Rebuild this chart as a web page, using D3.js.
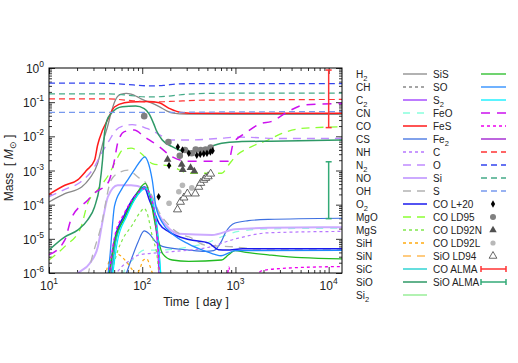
<!DOCTYPE html>
<html>
<head>
<meta charset="utf-8">
<script src="https://cdn.jsdelivr.net/npm/d3@7"></script>
<style>
body { margin: 0; background: #fff; }
text { font-family: "Liberation Sans", Arial, sans-serif; }
</style>
</head>
<body>
<div id="chart"></div>
<script>
// masses [Msun] vs time [day]
const H2 = [[10,1.2e-4],[14.8,2.1e-4],[22.4,3.3e-4],[27.3,5.9e-4],[33.2,1.6e-3],[35.5,3.2e-3],[39.4,9.8e-3],[42.4,0.019],[46,0.045],[50.4,0.1],[54.2,0.145],[60,0.172],[67.5,0.182],[76,0.172],[88,0.145],[100,0.12],[120,0.1],[152,0.074],[185,0.055],[215,0.048],[300,0.045],[1000,0.044],[13900,0.044]];
const CO = [[10,2.0e-4],[14.8,3.7e-4],[20.3,5.3e-4],[25.2,1.0e-3],[30.8,2.0e-3],[33.2,5.5e-3],[37.5,0.015],[42.4,0.03],[50.4,0.072],[64.4,0.096],[88,0.103],[115,0.104],[152,0.096],[194,0.066],[260,0.05],[400,0.047],[13900,0.047]];
const N2 = [[10,1.7e-4],[14.8,2.8e-4],[22,4.7e-4],[30.8,1.3e-3],[34.9,2.5e-3],[44.6,7.8e-3],[52,0.015],[62,0.02],[78,0.022],[95,0.02],[112,0.017],[134,0.0137],[170,0.0095],[194,7.8e-3],[316,7.8e-3],[660,8.7e-3],[1077,9.5e-3],[3000,8.6e-3],[13900,8.6e-3]];
const O = [[10,0.36],[30,0.36],[50,0.35],[80,0.32],[120,0.3],[170,0.31],[240,0.34],[400,0.35],[13900,0.35]];
const Si = [[10,0.175],[40,0.175],[70,0.16],[110,0.142],[160,0.145],[300,0.17],[600,0.182],[13900,0.185]];
const C = [[10,0.125],[40,0.125],[80,0.11],[120,0.1],[200,0.105],[500,0.115],[13900,0.12]];
const S = [[10,0.05],[100,0.05],[1000,0.052],[13900,0.053]];
const SiO = [[10,4.7e-6],[14.8,1.15e-5],[20.3,1.8e-5],[26,3.6e-5],[30.8,8.6e-5],[34.9,3.5e-4],[37.5,2e-3],[39.4,0.0124],[42,0.03],[46.5,0.047],[61,0.074],[85,0.077],[105,0.065],[119,0.045],[134,0.022],[141,0.0153],[164,7.8e-3],[210,5e-3],[291,3.6e-3],[370,3.6e-3],[475,4.5e-3],[712,6.3e-3],[1077,7e-3],[2400,7.2e-3],[13900,7.8e-3]];
const MgO = [[10,2.4e-6],[14.8,6e-6],[22,2.2e-5],[26,1.1e-4],[33.2,2.7e-4],[44.6,8.3e-4],[52.5,2e-3],[61.7,4e-3],[75.8,4.5e-3],[96.8,3.2e-3],[128,1.6e-3],[210,1.3e-3],[316,8.3e-4],[712,8.3e-4],[843,1.45e-3],[990,2.5e-3],[1490,5e-3],[2244,7.8e-3],[3100,0.012],[5100,0.017],[13900,0.019]];
const FeO = [[10,3.4e-6],[14.8,9.3e-6],[17.4,4e-5],[26.2,1.37e-4],[30.8,2.2e-4],[42.8,4.3e-4],[50.4,2e-3],[54.5,6.3e-3],[64.4,0.0137],[82,0.0153],[105,9.8e-3],[152,5e-3],[210,2.5e-3],[316,1.85e-3],[843,1.85e-3],[950,6.3e-3],[1270,0.0122],[1890,0.024],[2400,0.027],[3660,0.053],[5500,0.083],[13900,0.092]];
const NO = [[18,7e-7],[20.5,1e-6],[27.3,1.9e-6],[33.5,6e-6],[37.8,3.6e-5],[42.8,1.7e-4],[54.5,3.7e-4],[75.8,3.7e-4],[105,3e-4],[119,2.2e-4],[135,1.1e-4],[152,5e-5],[194,2e-5],[247,1.4e-5],[560,1.3e-5],[990,1.9e-5],[2244,2.1e-5],[13900,2.2e-5]];
const OH = [[26,8e-7],[28.5,2.4e-6],[36,2.2e-5],[46.5,5.3e-4],[58,9e-4],[70,1.03e-3],[93,6e-4],[105,5e-4],[125,2e-4],[152,6e-5],[194,2.5e-5],[268,1.3e-5],[316,1.15e-5],[475,6.5e-6],[990,5.8e-6],[1758,5e-6],[13900,5e-6]];
const SO = [[42.8,8e-7],[45,3e-6],[50.4,9e-5],[60,2.8e-4],[70,5.3e-4],[85,1.2e-3],[97,2e-3],[106,2.5e-3],[115,1.8e-3],[128,5.3e-4],[140,9e-5],[164,3e-5],[210,1.4e-5],[316,7e-6],[450,4.6e-6],[600,3.5e-6],[700,3.2e-6],[850,3.9e-6],[1000,4.5e-6],[13900,4.6e-6]];
const O2 = [[44,8e-7],[50.4,9e-6],[64.4,5e-5],[82,1.7e-4],[105,3.3e-4],[119,1.4e-4],[135,6e-5],[152,2.8e-5],[194,1.6e-5],[316,9.5e-6],[516,7.5e-6],[660,4.8e-6],[800,4.7e-6],[1200,5.1e-6],[13900,5.1e-6]];
const CS = [[66,8e-7],[76,2.4e-6],[90,8e-6],[105,1.7e-5],[119,1.4e-5],[140,8e-6],[164,6e-6],[316,4.7e-6],[475,4.3e-6],[584,4.5e-6],[700,8e-6],[780,1.5e-5],[990,2.9e-5],[1375,3.4e-5],[2244,3.7e-5],[13900,4e-5]];
const SiS = [[44,8e-7],[50.4,8e-6],[64.4,4e-5],[82,1.5e-4],[108,4.2e-4],[119,2.2e-4],[134,4e-5],[152,7.4e-6],[164,3.8e-6],[210,2.4e-6],[316,2.2e-6],[712,2.4e-6],[843,3.4e-6],[990,4.5e-6],[1300,4e-6],[2244,3.4e-6],[5100,2.8e-6],[13900,2.6e-6]];
const SiC = [[47,8e-7],[52,8e-6],[66,4.5e-5],[85,1.6e-4],[105,3.2e-4],[120,1.9e-4],[134,8e-5],[145,2e-5],[152,4e-6],[158,7e-7]];
const S2 = [[48,8e-7],[54,8e-6],[68,4.5e-5],[88,1.8e-4],[110,3e-4],[125,1.5e-4],[138,5e-5],[148,1e-5],[156,1.5e-6],[161,6e-7]];
const C2 = [[46,8e-7],[52,9e-6],[66,5e-5],[86,1.7e-4],[108,3.3e-4],[122,1.6e-4],[136,4e-5],[146,6e-6],[152,7e-7]];
const FeS = [[44,8e-7],[50,1e-5],[64,5.5e-5],[84,1.8e-4],[108,3e-4],[128,1.2e-4],[140,3e-5],[148,6e-6],[155,7e-7],[810,7e-7],[850,1.5e-6],[890,7e-7],[1600,8e-7],[1900,1.15e-6],[3000,1.35e-6],[13900,1.55e-6]];
const MgS = [[46,8e-7],[55,4.7e-6],[62,1e-5],[78,2.5e-5],[95,6e-5],[105,7.8e-5],[112,6e-5],[128,1.2e-5],[146,2.4e-6],[152,7e-7]];
const CN = [[62,8e-7],[64.4,1.2e-6],[80,2.5e-6],[105,4.7e-6],[140,4.7e-6],[209,4.9e-6],[316,5.8e-6],[475,7.3e-6],[712,1.15e-5],[1077,1.65e-5],[2244,1.95e-5],[13900,2.05e-5]];
const NH = [[50,8e-7],[60,1.5e-6],[75,2.4e-6],[93,3.4e-6],[209,4.2e-6],[475,5.4e-6],[1077,1.05e-5],[2244,1.5e-5],[13900,1.65e-5]];
const SiH = [[40,8e-7],[44.6,2.4e-6],[50,3.8e-6],[56,3.5e-6],[67,2.2e-6],[79,1.2e-6],[86,9e-7],[93,1.2e-6],[103,2.4e-6],[112,2.6e-6],[122,1.5e-6],[130,9e-7],[136,7e-7]];

// observations
const coL20 = [[150,1.7e-4],[194,1.4e-3],[241,4.9e-3],[270,4e-3],[316,3.2e-3],[385,2.8e-3],[419,3.0e-3],[457,3.1e-3],[495,3.2e-3],[538,3.5e-3],[569,3.8e-3]];
const coLD95 = [[105,0.039],[191,6.8e-3],[253,2.7e-3],[287,4e-3],[340,3.2e-3],[375,4.1e-3],[424,4e-3],[479,4.1e-3],[542,4.7e-3]];
const coLD92N = [[187,2.1e-3],[265,1.5e-3],[272,1.05e-3],[330,1.2e-3],[362,0.95e-3]];
const coLD92L = [[194,1.1e-4],[247,2.4e-4],[270,3.7e-4],[340,3.1e-4]];
const sioLD94 = [[239,7.2e-5],[257,1.2e-4],[280,1.6e-4],[305,2.1e-4],[371,2.1e-4],[404,3.3e-4],[424,4.3e-4],[457,5.3e-4],[480,6e-4],[510,6.7e-4],[542,8e-4]];
const almaDay = 1e4;
const coAlma = [0.018, 0.87];
const sioAlma = [3.9e-5, 1.8e-3];

// axis ticks
const xMajor = [10, 100, 1000, 10000];
const yMajor = [1e-6, 1e-5, 1e-4, 1e-3, 1e-2, 1e-1, 1];
const xLabels = ["1", "2", "3", "4"];
const yLabels = ["-6", "-5", "-4", "-3", "-2", "-1", "0"];

// styles for each legend entry, in legend order
const col1 = [
  ["H2", H2, "#888888", null, 1.3],
  ["CH", null, "#888888", "3,3", 1.2],
  ["C2", C2, "#9933ff", null, 1.2],
  ["CN", CN, "#88ffdd", "7,7", 1.2],
  ["CO", CO, "#ff1a1a", null, 1.5],
  ["CS", CS, "#3d6fe0", null, 1.2],
  ["NH", NH, "#b777ff", "3,3", 1.2],
  ["N2", N2, "#c08aff", "8,6", 1.4],
  ["NO", NO, "#ccaaff", null, 2],
  ["OH", OH, "#b3b3b3", "8,6", 1.3],
  ["O2", O2, "#1a1aee", null, 1.5],
  ["MgO", MgO, "#8cff33", "8,6", 1.3],
  ["MgS", MgS, "#80e84c", "3,3", 1.2],
  ["SiH", SiH, "#ffaa11", "3,3", 1.2],
  ["SiN", null, "#ffbb55", "8,6", 1.2],
  ["SiC", SiC, "#11cccc", null, 1.2],
  ["SiO", SiO, "#2e9966", null, 1.5],
  ["Si2", null, "#99ee99", null, 1.5]
];
const col2 = [
  ["SiS", SiS, "#22bb22", null, 1.3],
  ["SO", SO, "#2288ff", null, 1.3],
  ["S2", S2, "#00eeff", null, 1.2],
  ["FeO", FeO, "#cc11ee", "9,7", 1.5],
  ["FeS", FeS, "#ee00ee", "3,3", 1.3],
  ["Fe2", null, "#9911cc", null, 1.2],
  ["C", C, "#ff3333", "6,4", 1.2],
  ["O", O, "#3344ee", "6,4", 1.3],
  ["Si", Si, "#44aa88", "6,4", 1.2],
  ["S", S, "#7799ee", "6,4", 1.2]
];

const W = 518, H = 363;
const x = d3.scaleLog().domain([10, 13900]).range([49, 342]);
const y = d3.scaleLog().domain([1e-6, 1]).range([273, 68]);

const svg = d3.select("#chart").append("svg").attr("width", W).attr("height", H);

svg.append("clipPath").attr("id", "clip")
  .append("rect").attr("x", 49).attr("y", 68).attr("width", 293).attr("height", 205);

// ticks (inward, mirrored)
const xMinor = [];
[10, 100, 1000, 10000].forEach(d => { for (let k = 2; k < 10; k++) if (d * k <= 13900) xMinor.push(d * k); });
const yMinor = [];
[1e-6, 1e-5, 1e-4, 1e-3, 1e-2, 1e-1].forEach(d => { for (let k = 2; k < 10; k++) yMinor.push(d * k); });

const axG = svg.append("g").attr("class", "axes");
const addAxis = (gen, tr) => axG.append("g").attr("transform", tr).call(gen)
  .call(g => g.select(".domain").remove())
  .call(g => g.selectAll("line").attr("stroke", "#000").attr("stroke-width", 0.8));

addAxis(d3.axisBottom(x).tickValues(xMajor).tickSize(-6).tickFormat(""), "translate(0,273)");
addAxis(d3.axisBottom(x).tickValues(xMinor).tickSize(-3).tickFormat(""), "translate(0,273)");
addAxis(d3.axisTop(x).tickValues(xMajor).tickSize(-6).tickFormat(""), "translate(0,68)");
addAxis(d3.axisTop(x).tickValues(xMinor).tickSize(-3).tickFormat(""), "translate(0,68)");
addAxis(d3.axisLeft(y).tickValues(yMajor).tickSize(-6).tickFormat(""), "translate(49,0)");
addAxis(d3.axisLeft(y).tickValues(yMinor).tickSize(-3).tickFormat(""), "translate(49,0)");
addAxis(d3.axisRight(y).tickValues(yMajor).tickSize(-6).tickFormat(""), "translate(342,0)");
addAxis(d3.axisRight(y).tickValues(yMinor).tickSize(-3).tickFormat(""), "translate(342,0)");

// tick labels 10^n
xMajor.forEach((d, i) => {
  const t = svg.append("text").attr("x", x(d)).attr("y", 290)
    .attr("text-anchor", "middle").attr("font-size", 12).attr("fill", "#222");
  t.append("tspan").text("10");
  t.append("tspan").attr("font-size", 8.5).attr("dy", -6).text(xLabels[i]);
});
yMajor.forEach((d, i) => {
  const t = svg.append("text").attr("x", 44).attr("y", y(d) + 5)
    .attr("text-anchor", "end").attr("font-size", 12).attr("fill", "#222");
  t.append("tspan").text("10");
  t.append("tspan").attr("font-size", 8.5).attr("dy", -6).text(yLabels[i]);
});

// axis titles
svg.append("text").attr("x", 196).attr("y", 306).attr("text-anchor", "middle")
  .attr("font-size", 12).attr("fill", "#222").text("Time \u00a0[ day ]");
const yt = svg.append("text").attr("transform", "translate(13,168) rotate(-90)")
  .attr("text-anchor", "middle").attr("font-size", 12).attr("fill", "#222");
yt.append("tspan").text("Mass \u00a0[ ");
yt.append("tspan").attr("font-style", "italic").text("M");
yt.append("tspan").attr("font-size", 8.5).attr("dy", 3).text("\u2299");
yt.append("tspan").attr("dy", -3).text("\u00a0]");

// curves
const line = d3.line().x(d => x(d[0])).y(d => y(d[1])).curve(d3.curveMonotoneX);
const plot = svg.append("g").attr("clip-path", "url(#clip)");
col1.concat(col2).forEach(s => {
  if (!s[1]) return;
  plot.append("path").datum(s[1]).attr("d", line)
    .attr("fill", "none").attr("stroke", s[2]).attr("stroke-width", s[4])
    .attr("stroke-dasharray", s[3]);
});

// observations
const sym = (type, size) => d3.symbol().type(type).size(size)();
plot.selectAll(".ld95").data(coLD95).join("circle")
  .attr("cx", d => x(d[0])).attr("cy", d => y(d[1])).attr("r", 3.3).attr("fill", "#808080");
plot.selectAll(".ld92l").data(coLD92L).join("circle")
  .attr("cx", d => x(d[0])).attr("cy", d => y(d[1])).attr("r", 2.8).attr("fill", "#b8b8b8");
plot.selectAll(".ld92n").data(coLD92N).join("path")
  .attr("transform", d => `translate(${x(d[0])},${y(d[1])})`)
  .attr("d", sym(d3.symbolTriangle, 26)).attr("fill", "#505050");
plot.selectAll(".ld94").data(sioLD94).join("path")
  .attr("transform", d => `translate(${x(d[0])},${y(d[1])})`)
  .attr("d", sym(d3.symbolTriangle, 28)).attr("fill", "#fff").attr("stroke", "#404040").attr("stroke-width", 0.8);
plot.selectAll(".l20").data(coL20).join("path")
  .attr("transform", d => `translate(${x(d[0])},${y(d[1])})`)
  .attr("d", sym(d3.symbolDiamond, 16)).attr("fill", "#000");

// ALMA error bars
const errBar = (g, xc, lo, hi, color) => {
  g.append("line").attr("x1", xc).attr("x2", xc).attr("y1", lo).attr("y2", hi).attr("stroke", color).attr("stroke-width", 1.5);
  [lo, hi].forEach(v => g.append("line").attr("x1", xc - 3).attr("x2", xc + 3).attr("y1", v).attr("y2", v)
    .attr("stroke", color).attr("stroke-width", 1.5));
};
errBar(plot, x(almaDay), y(coAlma[0]), y(coAlma[1]), "#ff3333");
errBar(plot, x(almaDay), y(sioAlma[0]), y(sioAlma[1]), "#33aa77");

// frame
svg.append("rect").attr("x", 49).attr("y", 68).attr("width", 293).attr("height", 205)
  .attr("fill", "none").attr("stroke", "#000").attr("stroke-width", 1);

// legend
const subs = ["H2", "C2", "N2", "O2", "Si2", "S2", "Fe2"];
const rowY = i => 74 + 13 * i;
const leg = svg.append("g").attr("class", "legend");
const label = (lx, ly, name) => {
  const t = leg.append("text").attr("x", lx).attr("y", ly + 3.5).attr("font-size", 10).attr("fill", "#222");
  if (subs.includes(name)) {
    t.append("tspan").text(name.slice(0, -1));
    t.append("tspan").attr("font-size", 7.5).attr("dy", 3).text(name.slice(-1));
  } else t.text(name);
};
const sample = (x1, x2, ly, s) => leg.append("line").attr("x1", x1).attr("x2", x2).attr("y1", ly).attr("y2", ly)
  .attr("stroke", s[2]).attr("stroke-width", Math.max(s[4], 1.3)).attr("stroke-dasharray", s[3]);

col1.forEach((s, i) => { label(356, rowY(i), s[0]); sample(403, 427, rowY(i), s); });
col2.forEach((s, i) => { label(433, rowY(i), s[0]); sample(481, 506, rowY(i), s); });

const obsLegend = ["CO L+20", "CO LD95", "CO LD92N", "CO LD92L", "SiO LD94", "CO ALMA", "SiO ALMA"];
obsLegend.forEach((n, k) => label(433, rowY(10 + k), n));
const mx = 493;
leg.append("path").attr("transform", `translate(${mx},${rowY(10)})`).attr("d", sym(d3.symbolDiamond, 16)).attr("fill", "#000");
leg.append("circle").attr("cx", mx).attr("cy", rowY(11)).attr("r", 3).attr("fill", "#808080");
leg.append("path").attr("transform", `translate(${mx},${rowY(12)})`).attr("d", sym(d3.symbolTriangle, 24)).attr("fill", "#505050");
leg.append("circle").attr("cx", mx).attr("cy", rowY(13)).attr("r", 2.6).attr("fill", "#b8b8b8");
leg.append("path").attr("transform", `translate(${mx},${rowY(14)})`).attr("d", sym(d3.symbolTriangle, 26))
  .attr("fill", "#fff").attr("stroke", "#404040").attr("stroke-width", 0.8);
[[15, "#ff3333"], [16, "#33aa77"]].forEach(([r, c]) => {
  const ly = rowY(r);
  leg.append("line").attr("x1", 481).attr("x2", 506).attr("y1", ly).attr("y2", ly).attr("stroke", c).attr("stroke-width", 1.5);
  [481, 506].forEach(xx => leg.append("line").attr("x1", xx).attr("x2", xx).attr("y1", ly - 3).attr("y2", ly + 3)
    .attr("stroke", c).attr("stroke-width", 1.5));
});
</script>
</body>
</html>
